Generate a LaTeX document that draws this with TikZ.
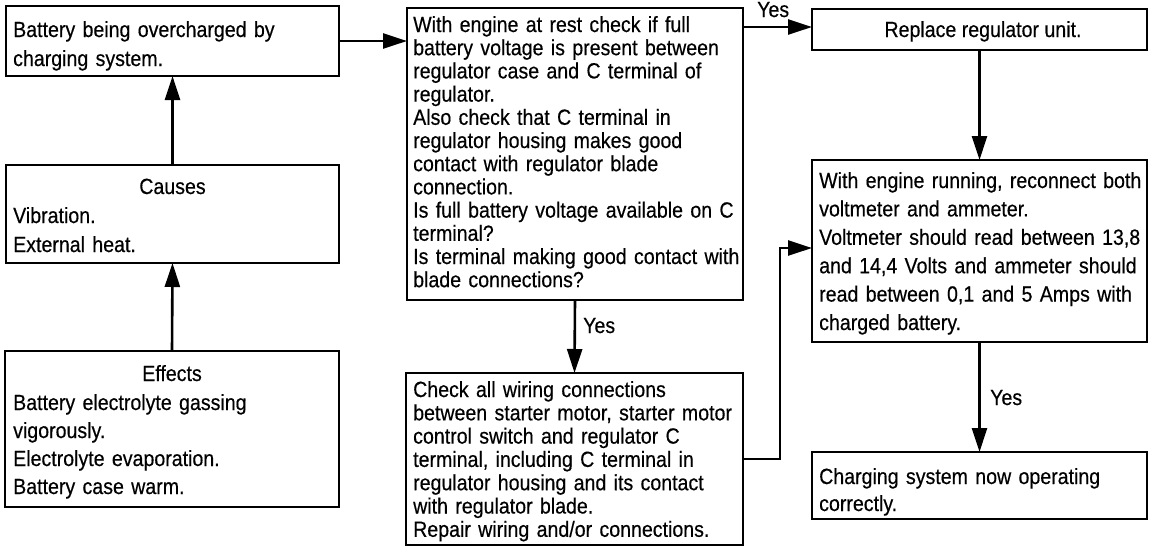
\documentclass[tikz,border=0pt]{standalone}
\usepackage{fontspec}
\setmainfont{Liberation Sans}[FakeStretch=0.89,FakeBold=0.4]
\usetikzlibrary{arrows.meta}
\tikzset{
  box/.style={draw, line width=2.4pt, anchor=north west, inner sep=0pt, outer sep=0pt},
  txt/.style={anchor=base west, inner sep=0pt, align=left, text width=420pt},
  ttl/.style={anchor=base, inner sep=0pt},
  arr/.style={line width=2.6pt, -{Triangle[length=24pt,width=15pt]}},
  lbl/.style={anchor=base west, inner sep=0pt}
}
\newcommand\sizedfont[1]{\fontsize{22}{#1}\selectfont}
\begin{document}
\begin{tikzpicture}[x=1pt,y=-1pt]
\useasboundingbox[fill=white] (0,0) rectangle (1149,547);
% boxes
\node[box, minimum width=333pt, minimum height=70pt] (A) at (6,6) {};
\node[box, minimum width=333pt, minimum height=98pt] (C) at (6,165) {};
\node[box, minimum width=334pt, minimum height=156pt] (E) at (5,351) {};
\node[box, minimum width=336pt, minimum height=292pt] (B) at (407,8) {};
\node[box, minimum width=337pt, minimum height=172pt] (W) at (406,373) {};
\node[box, minimum width=335pt, minimum height=41pt] (R) at (812,9) {};
\node[box, minimum width=335pt, minimum height=182pt] (N) at (812,160) {};
\node[box, minimum width=335pt, minimum height=67pt] (G) at (812,452) {};
% texts
\node[txt, font=\sizedfont{29}] (tA) at (13,37) {Battery being overcharged by\\charging system.};
\node[ttl, font=\sizedfont{29}] (tC0) at (172.5,194) {Causes};
\node[txt, font=\sizedfont{29}] (tC) at (13,223) {Vibration.\\External heat.};
\node[ttl, font=\sizedfont{28}] (tE0) at (172,381) {Effects};
\node[txt, font=\sizedfont{28}] (tE) at (13,410) {Battery electrolyte gassing\\vigorously.\\Electrolyte evaporation.\\Battery case warm.};
\node[txt, font=\sizedfont{23.2}] (tB) at (413,32) {With engine at rest check if full\\battery voltage is present between\\regulator case and C terminal of\\regulator.\\Also check that C terminal in\\regulator housing makes good\\contact with regulator blade\\connection.\\Is full battery voltage available on C\\terminal?\\Is terminal making good contact with\\blade connections?};
\node[txt, font=\sizedfont{23.3}] (tW) at (413,397) {Check all wiring connections\\between starter motor, starter motor\\control switch and regulator C\\terminal, including C terminal in\\regulator housing and its contact\\with regulator blade.\\Repair wiring and/or connections.};
\node[ttl, font=\sizedfont{25}] (tR) at (983,37) {Replace regulator unit.};
\node[txt, font=\sizedfont{28.4}] (tN) at (819,188) {With engine running, reconnect both\\voltmeter and ammeter.\\Voltmeter should read between 13,8\\and 14,4 Volts and ammeter should\\read between 0,1 and 5 Amps with\\charged battery.};
\node[txt, font=\sizedfont{27}] (tG) at (819,484) {Charging system now operating\\correctly.};
% labels
\node[lbl, font=\sizedfont{25}] (y1) at (757,17) {Yes};
\node[lbl, font=\sizedfont{25}] (y2) at (583,333) {Yes};
\node[lbl, font=\sizedfont{25}] (y3) at (990,405) {Yes};
% connectors
\draw[arr] (C.north) -- (A.south);
\draw[arr] (E.north) -- (C.south);
\draw[arr] (A.east) -- (A.east -| B.west);
\draw[arr] ([yshift=2.5pt]R.west -| B.east) -- ([yshift=2.5pt]R.west);
\draw[arr] (B.south) -- (W.north);
\draw[arr] (R.south) -- (N.north);
\draw[arr] (N.south) -- (G.north);
\draw[arr] (W.east) -- ++(37,0) |- ([yshift=3pt]N.west);
\end{tikzpicture}
\end{document}
